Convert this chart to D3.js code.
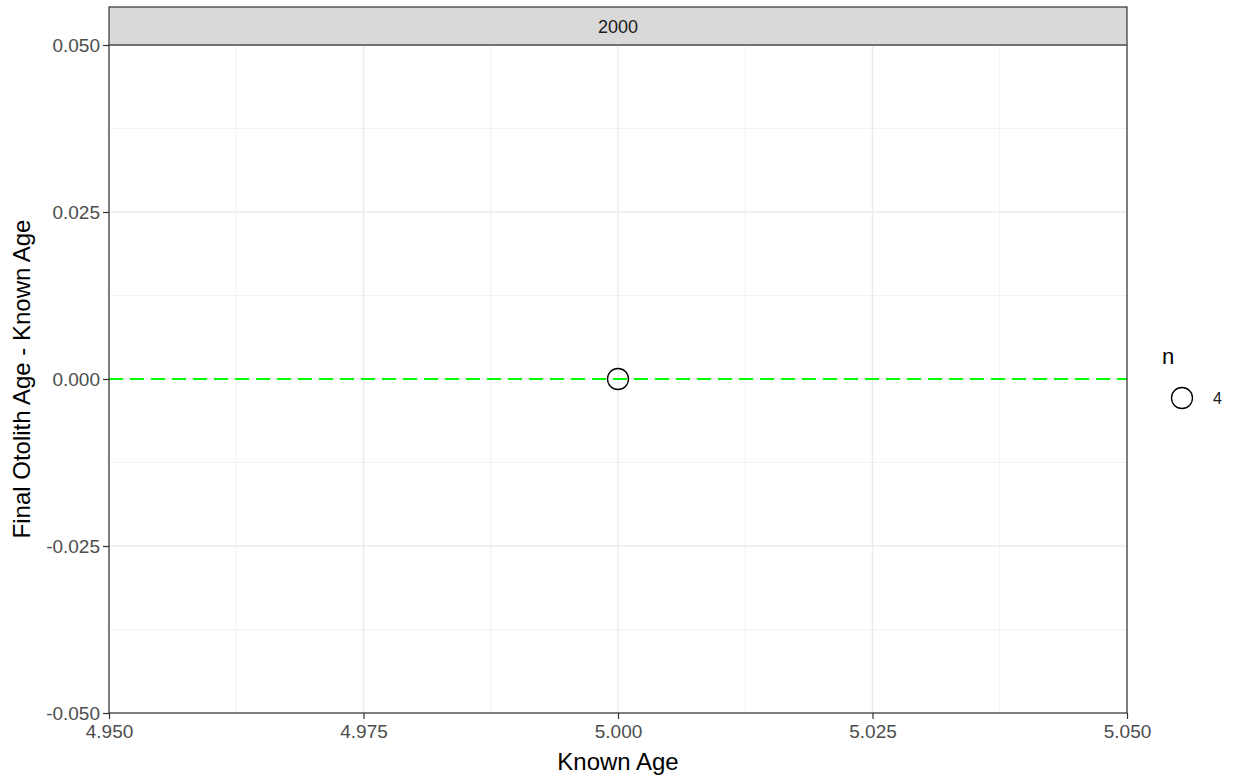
<!DOCTYPE html>
<html><head><meta charset="utf-8">
<script src="https://cdn.jsdelivr.net/npm/d3@7"></script>
<style>body{margin:0;background:#fff;} text{font-family:Arial,"Liberation Sans",sans-serif;}</style>
</head><body>
<svg id="c" width="1238" height="778"></svg>
<script>
const facet = "2000";
const knownAge = [5.0];
const diffAge = [0.0];
const nValues = [4];
const xTicks = [4.95, 4.975, 5.0, 5.025, 5.05];
const yTicks = [-0.05, -0.025, 0, 0.025, 0.05];
const xMinor = [4.9625, 4.9875, 5.0125, 5.0375];
const yMinor = [-0.0375, -0.0125, 0.0125, 0.0375];

const svg = d3.select("#c");
const L = 109, R = 1127, T = 45, B = 713;
const x = d3.scaleLinear().domain([4.95, 5.05]).range([L, R]);
const y = d3.scaleLinear().domain([-0.05, 0.05]).range([B, T]);
const fmt = v => d3.format(".3f")(v).replace("\u2212", "-");

// strip
svg.append("rect").attr("x", L).attr("y", 7).attr("width", R - L).attr("height", T - 7)
  .attr("fill", "#d9d9d9").attr("stroke", "#333").attr("stroke-width", 1.2);
svg.append("text").attr("x", (L + R) / 2).attr("y", 33).attr("text-anchor", "middle")
  .attr("font-size", 18).attr("fill", "#1a1a1a").text(facet);

// grid
const g = svg.append("g");
xMinor.forEach(v => g.append("line").attr("x1", x(v)).attr("x2", x(v)).attr("y1", T).attr("y2", B).attr("stroke", "#f2f2f2").attr("stroke-width", 1));
yMinor.forEach(v => g.append("line").attr("y1", y(v)).attr("y2", y(v)).attr("x1", L).attr("x2", R).attr("stroke", "#f2f2f2").attr("stroke-width", 1));
xTicks.forEach(v => g.append("line").attr("x1", x(v)).attr("x2", x(v)).attr("y1", T).attr("y2", B).attr("stroke", "#ebebeb").attr("stroke-width", 1.5));
yTicks.forEach(v => g.append("line").attr("y1", y(v)).attr("y2", y(v)).attr("x1", L).attr("x2", R).attr("stroke", "#ebebeb").attr("stroke-width", 1.5));

// zero line
svg.append("line").attr("x1", L).attr("x2", R).attr("y1", y(0)).attr("y2", y(0))
  .attr("stroke", "#00ff00").attr("stroke-width", 2).attr("stroke-dasharray", "14,7");

// points
svg.selectAll("circle.pt").data(knownAge).join("circle").attr("class", "pt")
  .attr("cx", d => x(d)).attr("cy", (d, i) => y(diffAge[i])).attr("r", 10.5)
  .attr("fill", "none").attr("stroke", "#000").attr("stroke-width", 1.3);

// border
svg.append("rect").attr("x", L).attr("y", T).attr("width", R - L).attr("height", B - T)
  .attr("fill", "none").attr("stroke", "#333").attr("stroke-width", 1.2);

// axes
const xa = svg.append("g").attr("transform", `translate(0,${B})`)
  .call(d3.axisBottom(x).tickValues(xTicks).tickFormat(fmt).tickSize(6).tickPadding(6));
const ya = svg.append("g").attr("transform", `translate(${L},0)`)
  .call(d3.axisLeft(y).tickValues(yTicks).tickFormat(fmt).tickSize(6).tickPadding(3));
[xa, ya].forEach(a => {
  a.select(".domain").remove();
  a.selectAll(".tick line").attr("stroke", "#333").attr("stroke-width", 1.2);
  a.selectAll(".tick text").attr("fill", "#4d4d4d").attr("font-size", 19).attr("font-family", "Arial,'Liberation Sans',sans-serif");
});

// titles
svg.append("text").attr("x", (L + R) / 2).attr("y", 770).attr("text-anchor", "middle")
  .attr("font-size", 24).attr("fill", "#000").text("Known Age");
svg.append("text").attr("transform", `translate(30,${(T + B) / 2}) rotate(-90)`).attr("text-anchor", "middle")
  .attr("font-size", 24).attr("fill", "#000").text("Final Otolith Age - Known Age");

// legend
svg.append("text").attr("x", 1162).attr("y", 364).attr("font-size", 22).attr("fill", "#000").text("n");
svg.selectAll("circle.lg").data(nValues).join("circle").attr("class", "lg")
  .attr("cx", 1182).attr("cy", 398).attr("r", 10.5).attr("fill", "none").attr("stroke", "#000").attr("stroke-width", 1.3);
svg.selectAll("text.lg").data(nValues).join("text").attr("class", "lg")
  .attr("x", 1213).attr("y", 404).attr("font-size", 16).attr("fill", "#1a1a1a").text(d => d);
</script>
</body></html>
